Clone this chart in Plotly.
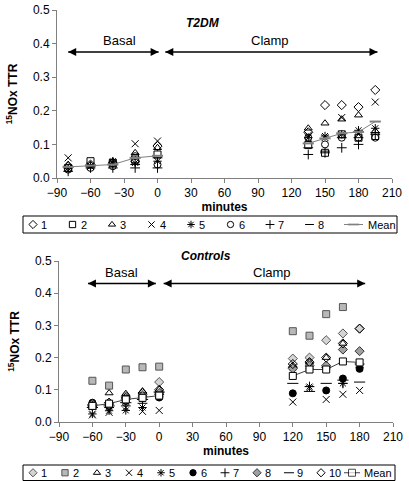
import plotly.graph_objects as go

# ---------------- Data ----------------
t2dm_times = [-80, -60, -40, -20, 0, 135, 150, 165, 180, 195]
t2dm_labels = ["1", "2", "3", "4", "5", "6", "7", "8"]
t2dm_s1 = [0.035, 0.040, 0.045, 0.050, 0.095, 0.136, 0.217, 0.217, 0.211, 0.262]
t2dm_s2 = [0.030, 0.050, 0.045, 0.055, 0.070, 0.098, 0.075, 0.130, 0.120, 0.125]
t2dm_s3 = [0.040, 0.040, 0.050, 0.075, 0.090, 0.148, 0.163, 0.175, 0.187, 0.140]
t2dm_s4 = [0.060, 0.035, 0.045, 0.102, 0.110, 0.127, 0.120, 0.180, 0.130, 0.226]
t2dm_s5 = [0.030, 0.035, 0.050, 0.045, 0.050, 0.120, 0.125, 0.130, 0.142, 0.148]
t2dm_s6 = [0.025, 0.030, 0.035, 0.065, 0.040, 0.120, 0.100, 0.120, 0.120, 0.120]
t2dm_s7 = [0.020, 0.030, 0.030, 0.030, 0.030, 0.070, 0.075, 0.090, 0.100, 0.130]
t2dm_s8 = [0.030, 0.035, 0.040, 0.040, 0.060, 0.090, 0.080, 0.120, 0.120, 0.135]
t2dm_mean_basal = [0.033, 0.037, 0.040, 0.060, 0.066]
t2dm_mean_clamp = [0.103, 0.118, 0.133, 0.137, 0.168]

ctrl_times = [-60, -45, -30, -15, 0, 120, 135, 150, 165, 180]
ctrl_labels = ["1", "2", "3", "4", "5", "6", "7", "8", "9", "10"]
ctrl_s1 = [0.055, 0.060, 0.080, 0.085, 0.124, 0.197, 0.200, 0.254, 0.275, 0.290]
ctrl_s2 = [0.128, 0.113, 0.163, 0.170, 0.172, 0.282, 0.268, 0.335, 0.357, None]
ctrl_s3 = [0.045, 0.090, 0.088, 0.096, 0.101, 0.176, 0.186, 0.200, 0.244, None]
ctrl_s4 = [0.022, 0.030, 0.045, 0.033, 0.036, 0.062, 0.105, 0.070, 0.086, 0.098]
ctrl_s5 = [0.025, 0.035, 0.036, 0.045, 0.080, 0.170, 0.110, 0.165, 0.120, 0.170]
ctrl_s6 = [0.060, 0.050, 0.065, 0.073, 0.076, 0.089, 0.166, 0.098, 0.135, 0.165]
ctrl_s7 = [0.050, 0.045, 0.050, 0.058, 0.085, 0.170, 0.110, 0.170, 0.120, 0.180]
ctrl_s8 = [0.055, 0.055, 0.070, 0.080, 0.090, 0.166, 0.175, 0.175, 0.225, 0.220]
ctrl_s9 = [0.045, 0.050, 0.060, 0.070, 0.093, 0.120, 0.095, 0.120, 0.130, 0.124]
ctrl_s10 = [0.050, 0.060, 0.075, 0.090, 0.100, 0.180, 0.186, 0.200, 0.244, 0.290]
ctrl_mean_basal = [0.050, 0.057, 0.070, 0.075, 0.082]
ctrl_mean_clamp = [0.143, 0.163, 0.163, 0.188, 0.185]

x_ticks = [-90, -60, -30, 0, 30, 60, 90, 120, 150, 180, 210]
y_ticks = [0.0, 0.1, 0.2, 0.3, 0.4, 0.5]

# phase arrows (minutes)
t2dm_basal_span = (-80, 1)
t2dm_clamp_span = (7, 197)
t2dm_arrow_y = 0.375
ctrl_basal_span = (-64, -3)
ctrl_clamp_span = (4, 185)
ctrl_arrow_y = 0.43

FONT = "Liberation Sans, Arial, sans-serif"
W, H = 409, 481

fig = go.Figure()

t2_series = [t2dm_s1, t2dm_s2, t2dm_s3, t2dm_s4, t2dm_s5, t2dm_s6, t2dm_s7, t2dm_s8]
t2_styles = [
    ("diamond-open", "black", "black", 7),
    ("square-open", "black", "black", 7),
    ("triangle-up-open", "black", "black", 7),
    ("x-thin-open", "black", "black", 7),
    ("asterisk-open", "black", "black", 7),
    ("circle-open", "black", "black", 7),
    ("cross-thin-open", "black", "black", 7),
    ("line-ew-open", "black", "black", 7),
]
ct_series = [ctrl_s1, ctrl_s2, ctrl_s3, ctrl_s4, ctrl_s5, ctrl_s6, ctrl_s7,
             ctrl_s8, ctrl_s9, ctrl_s10]
ct_styles = [
    ("diamond", "#d4d4d4", "#555555", 7),
    ("square", "#b8b8b8", "#555555", 7),
    ("triangle-up-open", "black", "black", 7),
    ("x-thin-open", "black", "black", 7),
    ("asterisk-open", "black", "black", 7),
    ("circle", "black", "black", 7),
    ("cross-thin-open", "black", "black", 7),
    ("diamond", "#a0a0a0", "#333333", 7),
    ("line-ew-open", "black", "black", 8),
    ("diamond-open", "black", "black", 7),
]

def mk(style, scale=1.0):
    sym, col, lc, size = style
    return dict(symbol=sym, size=size * scale, color=col,
                line=dict(color=lc, width=1))

for vals, lab, st in zip(t2_series, t2dm_labels, t2_styles):
    fig.add_trace(go.Scatter(x=t2dm_times, y=vals, mode="markers", name=lab,
                             xaxis="x", yaxis="y", showlegend=False,
                             cliponaxis=False, marker=mk(st)))

t2_mean_line = dict(color="#808080", width=1)
t2_mean_marker = dict(symbol="line-ew-open", size=8,
                      line=dict(color="black", width=2))
for xs, ys in [(t2dm_times[:5], t2dm_mean_basal), (t2dm_times[5:], t2dm_mean_clamp)]:
    fig.add_trace(go.Scatter(x=xs, y=ys, mode="lines+markers", name="Mean",
                             xaxis="x", yaxis="y", showlegend=False,
                             line=t2_mean_line, marker=t2_mean_marker))

for vals, lab, st in zip(ct_series, ctrl_labels, ct_styles):
    fig.add_trace(go.Scatter(x=ctrl_times, y=vals, mode="markers", name=lab,
                             xaxis="x2", yaxis="y2", showlegend=False,
                             cliponaxis=False, marker=mk(st)))

ct_mean_line = dict(color="#404040", width=1)
ct_mean_marker = dict(symbol="square", size=7, color="white",
                      line=dict(color="black", width=1))
for xs, ys in [(ctrl_times[:5], ctrl_mean_basal), (ctrl_times[5:], ctrl_mean_clamp)]:
    fig.add_trace(go.Scatter(x=xs, y=ys, mode="lines+markers", name="Mean",
                             xaxis="x2", yaxis="y2", showlegend=False,
                             line=ct_mean_line, marker=ct_mean_marker))

# ---------------- Phase arrows (double-headed) ----------------
for xr, yr, span, ay in [("x", "y", t2dm_basal_span, t2dm_arrow_y),
                         ("x", "y", t2dm_clamp_span, t2dm_arrow_y),
                         ("x2", "y2", ctrl_basal_span, ctrl_arrow_y),
                         ("x2", "y2", ctrl_clamp_span, ctrl_arrow_y)]:
    fig.add_trace(go.Scatter(
        x=[span[0], span[1]], y=[ay, ay], mode="lines+markers",
        xaxis=xr, yaxis=yr, showlegend=False, hoverinfo="skip",
        cliponaxis=False, line=dict(color="black", width=1.5),
        marker=dict(symbol=["arrow-left", "arrow-right"], size=8,
                    color="black", line=dict(width=0))))

# ---------------- Legend boxes (drawn on a hidden pixel-unit overlay axis) ----
anns = []
shapes = []

def draw_legend(labels, styles, x0, x1, ytop, ybot, first, step, mean_x0, mean_x1,
                mean_text_x, mean_line, mean_marker):
    yc = (ytop + ybot) / 2
    shapes.append(dict(type="rect", xref="paper", yref="paper",
                       x0=x0 / W, x1=x1 / W, y0=1 - ybot / H, y1=1 - ytop / H,
                       line=dict(color="black", width=1), fillcolor="white",
                       layer="below"))
    for i, (lab, st) in enumerate(zip(labels, styles)):
        px = first + i * step
        fig.add_trace(go.Scatter(x=[px], y=[yc], mode="markers", name=lab,
                                 xaxis="x3", yaxis="y3", showlegend=False,
                                 hoverinfo="skip", cliponaxis=False,
                                 marker=mk(st, 0.9)))
        anns.append(dict(xref="x3", yref="y3", x=px + 6, y=yc, text=lab,
                         xanchor="left", yanchor="middle", showarrow=False,
                         font=dict(size=11)))
    fig.add_trace(go.Scatter(x=[mean_x0, (mean_x0 + mean_x1) / 2, mean_x1],
                             y=[yc, yc, yc], mode="lines+markers", name="Mean",
                             xaxis="x3", yaxis="y3", showlegend=False,
                             hoverinfo="skip", cliponaxis=False,
                             line=mean_line,
                             marker=dict(mean_marker, size=[0, mean_marker["size"], 0])))
    anns.append(dict(xref="x3", yref="y3", x=mean_text_x, y=yc, text="Mean",
                     xanchor="left", yanchor="middle", showarrow=False,
                     font=dict(size=11)))

draw_legend(t2dm_labels, t2_styles, 23, 397, 216, 233, 33, 39.5, 344, 363, 366,
            t2_mean_line, t2_mean_marker)
draw_legend(ctrl_labels, ct_styles, 23, 395, 465, 480.5, 33, 32, 344, 360, 362,
            ct_mean_line, ct_mean_marker)

axis_common = dict(showgrid=False, zeroline=False, showline=True,
                   linecolor="#808080", linewidth=1, ticks="outside",
                   ticklen=4, tickcolor="#808080", automargin=False,
                   tickfont=dict(family=FONT, size=12, color="black"))

fig.update_layout(
    width=W, height=H, margin=dict(l=0, r=0, t=0, b=0),
    paper_bgcolor="white", plot_bgcolor="rgba(0,0,0,0)",
    font=dict(family=FONT, size=12, color="black"),
    showlegend=False,
    xaxis=dict(domain=[57/W, 392/W], range=[-90, 210], tickvals=x_ticks,
               anchor="y",
               title=dict(text="<b>minutes</b>", standoff=0,
                          font=dict(size=12)), **axis_common),
    yaxis=dict(domain=[1-178/H, 1-10/H], range=[0, 0.5], tickvals=y_ticks,
               tickformat=".1f", anchor="x",
               title=dict(text="<b><sup>15</sup>NOx TTR</b>", standoff=12,
                          font=dict(size=12)), **axis_common),
    xaxis2=dict(domain=[59/W, 393/W], range=[-90, 210], tickvals=x_ticks,
                anchor="y2",
                title=dict(text="<b>minutes</b>", standoff=0,
                           font=dict(size=12)), **axis_common),
    yaxis2=dict(domain=[1-422/H, 1-261/H], range=[0, 0.5],
                tickvals=y_ticks, tickformat=".1f", anchor="x2",
                title=dict(text="<b><sup>15</sup>NOx TTR</b>", standoff=12,
                           font=dict(size=12)), **axis_common),
    xaxis3=dict(domain=[0, 1], range=[0, W], visible=False, fixedrange=True,
                anchor="y3"),
    yaxis3=dict(domain=[0, 1], range=[H, 0], visible=False, fixedrange=True,
                anchor="x3"),
)

for xr, yr, yv in [("x", "y", 0.41), ("x2", "y2", 0.465)]:
    anns.append(dict(xref=xr, yref=yr, x=-34, y=yv, text="Basal",
                     showarrow=False, font=dict(size=13)))
    anns.append(dict(xref=xr, yref=yr, x=101, y=yv, text="Clamp",
                     showarrow=False, font=dict(size=13)))

anns.append(dict(xref="paper", yref="paper", x=203/W, y=1-14/H,
                 text="<b><i>T2DM</i></b>", showarrow=False,
                 font=dict(size=12)))
anns.append(dict(xref="paper", yref="paper", x=206/W, y=1-256/H,
                 text="<b><i>Controls</i></b>", showarrow=False,
                 font=dict(size=12)))
fig.update_layout(annotations=anns, shapes=shapes)

fig.write_html(
    "out.html",
    config={"displayModeBar": False, "staticPlot": True},
    post_script="document.body.style.margin='0';document.body.style.overflow='hidden';",
)
